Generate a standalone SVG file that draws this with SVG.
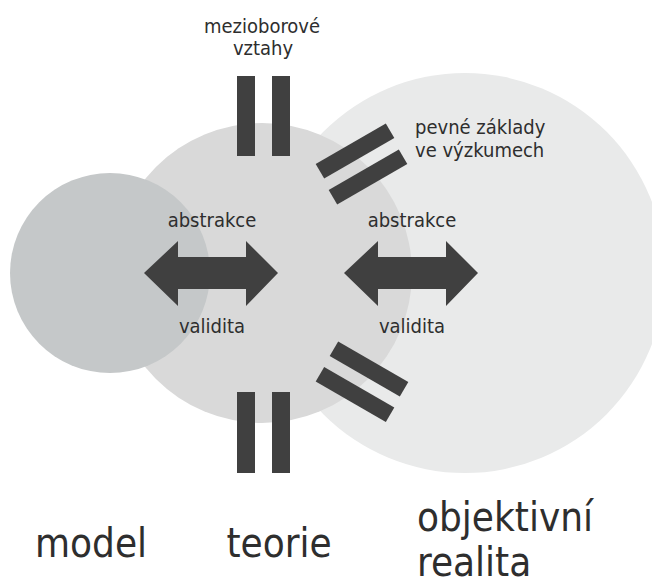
<svg xmlns="http://www.w3.org/2000/svg" width="652" height="586" viewBox="0 0 652 586">
<style>
  text { font-family: "DejaVu Sans Condensed", "DejaVu Sans", sans-serif; font-stretch: condensed; fill: #2e2e2e; }
  .big { font-size: 40px; }
  .small { font-size: 20px; }
  .bar { fill: #404040; }
  .arrow { fill: #404040; }
</style>
<rect width="652" height="586" fill="#ffffff"/>
<g id="realita">
  <circle cx="465" cy="273" r="200" fill="#e9eaea"/>
  <text class="big" x="417" y="531">objektivní</text>
  <text class="big" x="417" y="576">realita</text>
</g>
<g id="teorie">
  <circle cx="262" cy="273" r="150" fill="#d9d9d9"/>
  <text class="big" x="279" y="557" text-anchor="middle">teorie</text>
</g>
<g id="model">
  <circle cx="110" cy="273" r="100" fill="#c5c8c9"/>
  <text class="big" x="91" y="557" text-anchor="middle">model</text>
</g>
<g id="mezioborove">
  <rect class="bar" x="237" y="76" width="18" height="80"/>
  <rect class="bar" x="272" y="76" width="18" height="80"/>
  <text class="small" x="262" y="33" text-anchor="middle">mezioborové</text>
  <text class="small" x="263" y="55" text-anchor="middle">vztahy</text>
</g>
<g id="zaklady">
  <rect class="bar" x="-40.5" y="-8.5" width="81" height="17" transform="translate(355 151) rotate(-30)"/>
  <rect class="bar" x="-40.5" y="-8.5" width="81" height="17" transform="translate(368 177) rotate(-30)"/>
  <text class="small" x="415" y="134">pevné základy</text>
  <text class="small" x="415" y="157">ve výzkumech</text>
</g>
<g id="bottom-bars">
  <rect class="bar" x="-40.5" y="-8.5" width="81" height="17" transform="translate(369 369) rotate(30)"/>
  <rect class="bar" x="-40.5" y="-8.5" width="81" height="17" transform="translate(355 394.5) rotate(30)"/>
  <rect class="bar" x="237" y="392" width="18" height="81"/>
  <rect class="bar" x="272" y="392" width="18" height="81"/>
</g>
<g id="connectors">
  <g id="arrow-model-teorie">
    <polygon class="arrow" points="144,273 178,241 178,257 246,257 246,241 278,273 246,306 246,289 178,289 178,306"/>
    <text class="small" x="212" y="227" text-anchor="middle">abstrakce</text>
    <text class="small" x="212" y="333" text-anchor="middle">validita</text>
  </g>
  <g id="arrow-teorie-realita">
    <polygon class="arrow" points="344,273 378,241 378,257 446,257 446,241 478,273 446,306 446,289 378,289 378,306"/>
    <text class="small" x="412" y="227" text-anchor="middle">abstrakce</text>
    <text class="small" x="412" y="333" text-anchor="middle">validita</text>
  </g>
</g>
</svg>
